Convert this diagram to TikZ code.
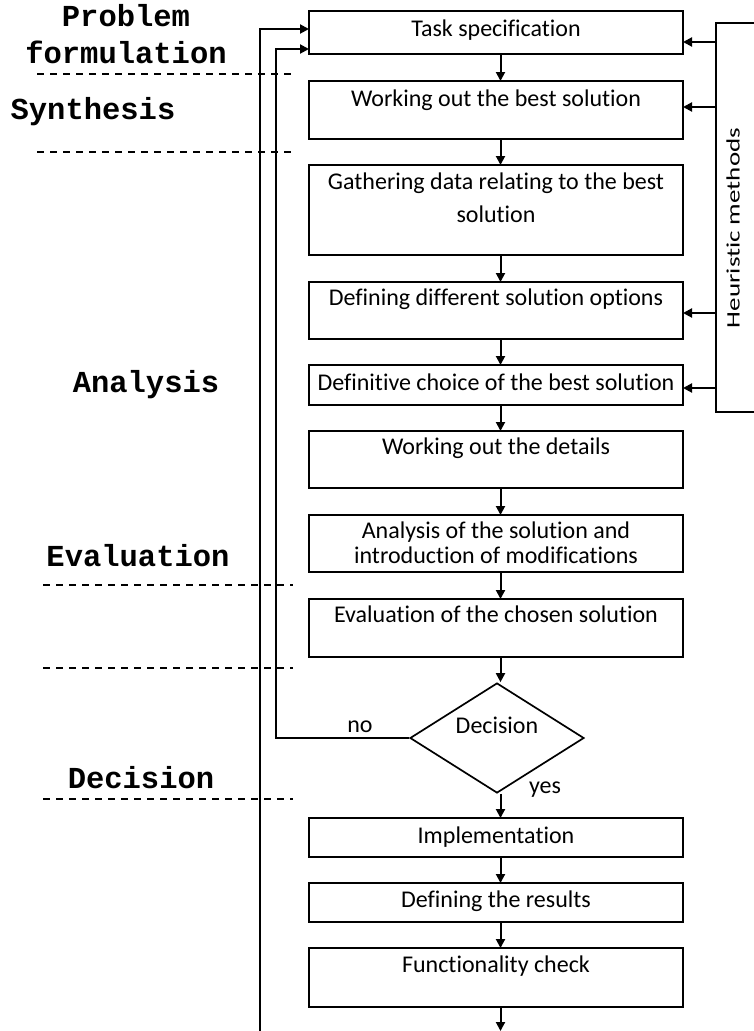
\documentclass[tikz,border=0pt]{standalone}
\usepackage{fontspec}
\setmainfont{Carlito}[Ligatures=CommonOff]
\newfontfamily\monofnt{Liberation Mono}
\usetikzlibrary{arrows.meta,shapes.geometric,calc}
\begin{document}
\begin{tikzpicture}[x=1pt,y=-1pt,
  box/.style={draw, line width=2pt, minimum width=374pt, inner sep=0pt, outer sep=0pt},
  txt/.style={font=\fontsize{24}{25}\selectfont, inner sep=0pt, anchor=base},
  arr/.style={line width=2pt, -{Triangle[length=9pt,width=9pt]}},
  phase/.style={font=\monofnt\bfseries\fontsize{30.5}{37}\selectfont, inner sep=0pt, anchor=base},
  sep/.style={line width=1.4pt, dash pattern=on 7pt off 6pt}]
\useasboundingbox (0,0) rectangle (754,1031);

% main boxes
\node[box, minimum height=43pt] (b1) at (496,32.5) {};
\node[box, minimum height=58pt] (b2) at (496,110) {};
\node[box, minimum height=90pt] (b3) at (496,210) {};
\node[box, minimum height=57pt] (b4) at (496,310.5) {};
\node[box, minimum height=40pt] (b5) at (496,385) {};
\node[box, minimum height=57pt] (b6) at (496,459.5) {};
\node[box, minimum height=57pt] (b7) at (496,543.5) {};
\node[box, minimum height=58pt] (b8) at (496,628) {};
\node[draw, diamond, line width=1.7pt, minimum width=174pt, minimum height=110pt, inner sep=0pt] (dec) at (497,738) {};
\node[box, minimum height=39pt] (b9) at (496,837.5) {};
\node[box, minimum height=39pt] (b10) at (496,902.5) {};
\node[box, minimum height=59pt] (b11) at (496,977.5) {};

% texts
\node[txt] (t1) at (496,36) {Task specification};
\node[txt] (t2) at (496,106) {Working out the best solution};
\node[txt] (t3) at (496,189) {\begin{tabular}[t]{@{}c@{}}Gathering data relating to the best\\[8pt]solution\end{tabular}};
\node[txt] (t4) at (496,305) {Defining different solution options};
\node[txt] (t5) at (496,390) {Definitive choice of the best solution};
\node[txt] (t6) at (496,454) {Working out the details};
\node[txt] (t7) at (496,538) {\begin{tabular}[t]{@{}c@{}}Analysis of the solution and\\introduction of modifications\end{tabular}};
\node[txt] (t8) at (496,622) {Evaluation of the chosen solution};
\node[txt] (t9) at (497,733) {Decision};
\node[txt] (t10) at (496,843) {Implementation};
\node[txt] (t11) at (496,907) {Defining the results};
\node[txt] (t12) at (496,972) {Functionality check};
\node[txt] (no) at (360,732) {no};
\node[txt] (yes) at (545,793) {yes};

% heuristic methods box
\node[draw, line width=2pt, minimum width=90pt, minimum height=389pt, inner sep=0pt, anchor=north west] (heur) at (715,22) {};
\node[font=\fontsize{19}{22}\selectfont, rotate=90, inner sep=0pt] (ht) at (733,228) {\scalebox{1.42}[1]{Heuristic methods}};
\coordinate (h1) at (715,42);
\coordinate (h2) at (715,107);
\coordinate (h4) at (715,313);
\coordinate (h5) at (715,388);
\draw[arr] (h1) -- (h1 -| b1.east);
\draw[arr] (h2) -- (h2 -| b2.east);
\draw[arr] (h4) -- (h4 -| b4.east);
\draw[arr] (h5) -- (h5 -| b5.east);

% main flow arrows
\draw[arr] ([xshift=4.5pt]b1.south) -- ([xshift=4.5pt]b2.north);
\draw[arr] ([xshift=4.5pt]b2.south) -- ([xshift=4.5pt]b3.north);
\draw[arr] ([xshift=4.5pt]b3.south) -- ([xshift=4.5pt]b4.north);
\draw[arr] ([xshift=4.5pt]b4.south) -- ([xshift=4.5pt]b5.north);
\draw[arr] ([xshift=4.5pt]b5.south) -- ([xshift=4.5pt]b6.north);
\draw[arr] ([xshift=4.5pt]b6.south) -- ([xshift=4.5pt]b7.north);
\draw[arr] ([xshift=4.5pt]b7.south) -- ([xshift=4.5pt]b8.north);
\draw[arr] ([xshift=4.5pt]b8.south) -- ([xshift=3.5pt]dec.north);
\draw[arr] ([xshift=3.5pt]dec.south) -- ([xshift=4.5pt]b9.north);
\draw[arr] ([xshift=4.5pt]b9.south) -- ([xshift=4.5pt]b10.north);
\draw[arr] ([xshift=4.5pt]b10.south) -- ([xshift=4.5pt]b11.north);
\coordinate (endpt) at (500.5,1031);
\draw[arr] ([xshift=4.5pt]b11.south) -- (endpt);

% feedback lines
\coordinate (fbstart) at (260,1031);
\coordinate (fbtop) at (260,29);
\draw[arr] (fbstart) -- (fbtop) -- (fbtop -| b1.west);
\coordinate (notop) at (276,49);
\draw[arr] (dec.west) -| (notop) -- (notop -| b1.west);

% phase separators
\draw[sep] (37,74) -- (293,74);
\draw[sep] (37,152) -- (293,152);
\draw[sep] (43,585) -- (293,585);
\draw[sep] (43,668) -- (293,668);
\draw[sep] (43,799) -- (293,799);

% phase labels
\node[phase] (p1) at (126,26) {\begin{tabular}[t]{@{}c@{}}Problem\\formulation\end{tabular}};
\node[phase] (p2) at (93,119) {Synthesis};
\node[phase] (p3) at (146,392) {Analysis};
\node[phase] (p4) at (138,566) {Evaluation};
\node[phase] (p5) at (141,788) {Decision};
\end{tikzpicture}
\end{document}
